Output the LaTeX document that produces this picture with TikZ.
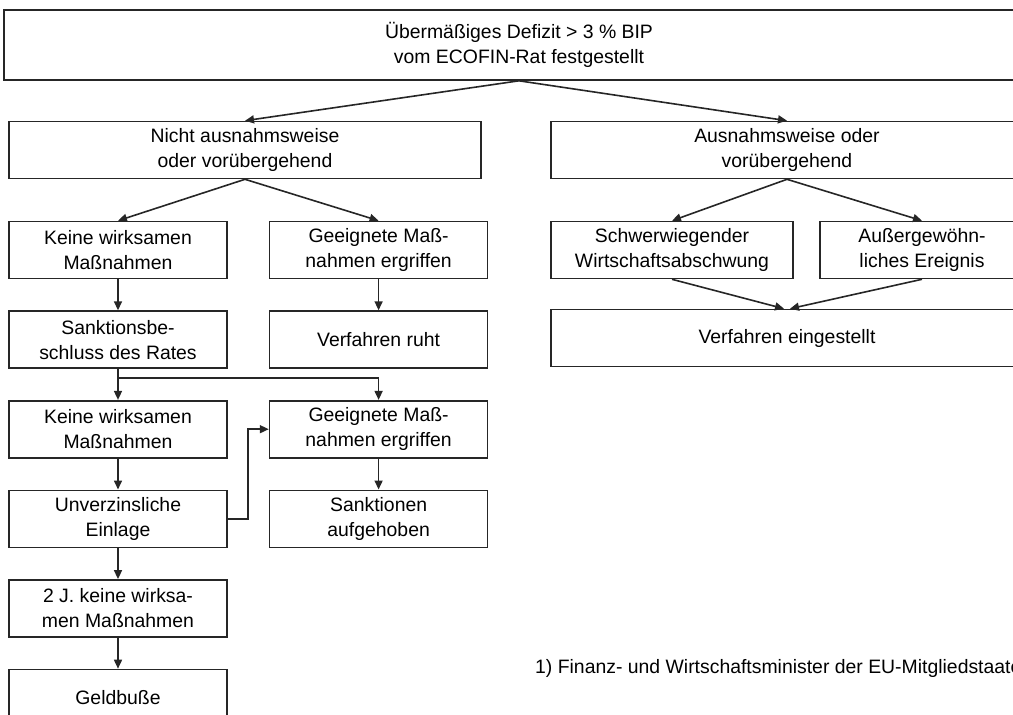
\documentclass[tikz,border=0pt]{standalone}
\usepackage{fontspec}
\setmainfont{Liberation Sans}
\usetikzlibrary{arrows.meta, positioning}

\begin{document}
\begin{tikzpicture}[
  x=1pt, y=-1pt,
  node distance=31pt and 41pt,
  every node/.style={font=\fontsize{19.4}{25}\selectfont},
  box/.style={rectangle, draw=black!85, line width=1.6pt, minimum width=218pt,
    minimum height=57pt, align=center, inner sep=0pt},
  wide/.style={box, minimum width=472pt},
  arr/.style={-{Triangle[length=9pt, width=8pt]}, line width=1.6pt, black!85}
]
\useasboundingbox (0,0) rectangle (1013,715);
\clip (0,0) rectangle (1013,715);

% ---- OBEN ----
\node[box, minimum width=1030pt, minimum height=70pt] (top) at (519,45)
  {Übermäßiges Defizit > 3 \% BIP\\vom ECOFIN-Rat festgestellt};
\node[wide] (nicht) at (245,150) {Nicht ausnahmsweise\\oder vorübergehend};
\node[wide] (ausn) at (787,150) {Ausnahmsweise oder\\vorübergehend};
\draw[arr] (top.south) -- (nicht.north);
\draw[arr] (top.south) -- (ausn.north);

% ---- LINKER ZWEIG ----
\node[box] (keine1) at (118,250) {Keine wirksamen\\Maßnahmen};
\node[box, right=of keine1] (geeig1) {Geeignete Maß-\\nahmen ergriffen};
\node[box, below=of keine1] (sankt) {Sanktionsbe-\\schluss des Rates};
\node[box, below=of geeig1] (ruht) {Verfahren ruht};
\node[box, below=of sankt] (keine2) {Keine wirksamen\\Maßnahmen};
\node[box, right=of keine2] (geeig2) {Geeignete Maß-\\nahmen ergriffen};
\node[box, below=of keine2] (unverz) {Unverzinsliche\\Einlage};
\node[box, right=of unverz] (aufgeh) {Sanktionen\\aufgehoben};
\node[box, below=of unverz] (zweij) {2 J. keine wirksa-\\men Maßnahmen};
\node[box, below=of zweij] (geld) {Geldbuße};
\draw[arr] (nicht.south) -- (keine1.north);
\draw[arr] (nicht.south) -- (geeig1.north);
\draw[arr] (keine1) -- (sankt);
\draw[arr] (geeig1) -- (ruht);
\draw[arr] (sankt) -- (keine2);
\draw[arr] (sankt.south) -- ++(0,9) -| (geeig2.north);
\draw[arr] (keine2) -- (unverz);
\draw[arr] (geeig2) -- (aufgeh);
\draw[arr] (unverz.east) -- ++(20,0) |- (geeig2.west);
\draw[arr] (unverz) -- (zweij);
\draw[arr] (zweij) -- (geld);

% ---- RECHTER ZWEIG ----
\node[box, minimum width=242pt] (schwer) at (672,250) {Schwerwiegender\\Wirtschaftsabschwung};
\node[box, minimum width=204pt] (ausserg) at (922,250) {Außergewöhn-\\liches Ereignis};
\node[wide] (einst) at (787,338) {Verfahren eingestellt};
\draw[arr] (ausn.south) -- (schwer.north);
\draw[arr] (ausn.south) -- (ausserg.north);
\draw[arr] (schwer.south) -- ([xshift=-3pt]einst.north);
\draw[arr] (ausserg.south) -- ([xshift=3pt]einst.north);

% Fussnote
\node[anchor=west, inner sep=0pt] (fn) at (535,668)
  {1) Finanz- und Wirtschaftsminister der EU-Mitgliedstaaten};
\end{tikzpicture}
\end{document}
